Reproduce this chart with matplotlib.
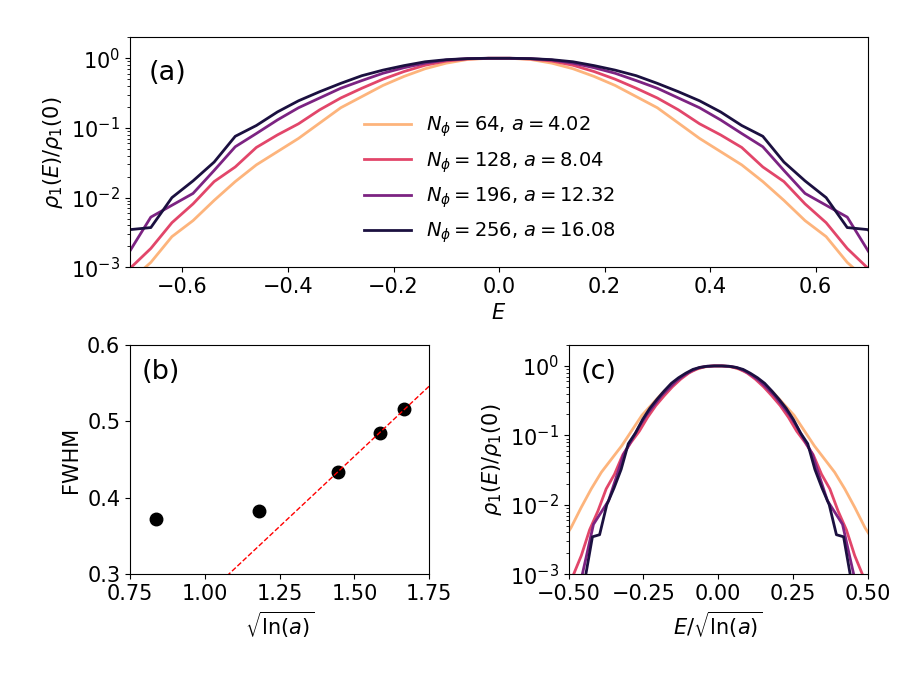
import numpy as np
import matplotlib
matplotlib.use("Agg")
import matplotlib.pyplot as plt

# ------------------------------------------------------------
# data
# ------------------------------------------------------------
N_phi = [64, 128, 196, 256]
a_vals = [4.02, 8.04, 12.32, 16.08]
colors = ['#fdb47c', '#e2466a', '#7c2382', '#1b1040']

E = [-0.74, -0.70, -0.66, -0.62, -0.58, -0.54, -0.50, -0.46, -0.42, -0.38,
     -0.34, -0.30, -0.26, -0.22, -0.18, -0.14, -0.10, -0.06, -0.02,
     0.02, 0.06, 0.10, 0.14, 0.18, 0.22, 0.26, 0.30, 0.34, 0.38,
     0.42, 0.46, 0.50, 0.54, 0.58, 0.62, 0.66, 0.70, 0.74]

# log10 of rho_1(E)/rho_1(0)
log_rho_64 = [-3.6, -3.2, -2.93, -2.56, -2.33, -2.04, -1.77, -1.53, -1.34, -1.15,
              -0.93, -0.71, -0.55, -0.39, -0.26, -0.15, -0.07, -0.018, 0.0,
              0.0, -0.018, -0.07, -0.15, -0.26, -0.39, -0.55, -0.71, -0.93, -1.15,
              -1.34, -1.53, -1.77, -2.04, -2.33, -2.56, -2.93, -3.2, -3.6]
log_rho_128 = [-3.4, -3.02, -2.73, -2.36, -2.09, -1.77, -1.56, -1.28, -1.10, -0.94,
               -0.74, -0.57, -0.43, -0.30, -0.19, -0.10, -0.04, -0.01, 0.0,
               0.0, -0.01, -0.04, -0.10, -0.19, -0.30, -0.43, -0.57, -0.74, -0.94,
               -1.10, -1.28, -1.56, -1.77, -2.09, -2.36, -2.73, -3.02, -3.4]
log_rho_196 = [-3.25, -2.77, -2.28, -2.11, -1.94, -1.61, -1.27, -1.08, -0.885, -0.71,
               -0.57, -0.43, -0.32, -0.215, -0.135, -0.07, -0.025, -0.005, 0.0,
               0.0, -0.005, -0.025, -0.07, -0.135, -0.215, -0.32, -0.43, -0.57, -0.71,
               -0.885, -1.08, -1.27, -1.61, -1.94, -2.11, -2.28, -2.77, -3.25]
log_rho_256 = [-3.05, -2.46, -2.43, -2.0, -1.76, -1.49, -1.12, -0.965, -0.77, -0.61,
               -0.48, -0.36, -0.25, -0.17, -0.105, -0.05, -0.02, -0.005, 0.0,
               0.0, -0.005, -0.02, -0.05, -0.105, -0.17, -0.25, -0.36, -0.48, -0.61,
               -0.77, -0.965, -1.12, -1.49, -1.76, -2.0, -2.43, -2.46, -3.05]
curves = [log_rho_64, log_rho_128, log_rho_196, log_rho_256]

# panel (b)
a_fwhm = [2.01, 4.02, 8.04, 12.32, 16.08]
fwhm = [0.372, 0.383, 0.434, 0.485, 0.516]

plt.rcParams['font.size'] = 15

fig = plt.figure(figsize=(9.22, 6.82), dpi=100)
ax_a = fig.add_axes([0.1407, 0.6081, 0.8011, 0.3372])
ax_b = fig.add_axes([0.141, 0.1579, 0.3246, 0.3362])
ax_c = fig.add_axes([0.6166, 0.1579, 0.3243, 0.3362])

E = np.array(E)

# (a) density of states
for N, a, c, lr in zip(N_phi, a_vals, colors, curves):
    ax_a.plot(E, 10 ** np.array(lr), color=c, lw=2,
              label=rf'$N_\phi={N}$, $a={a:.2f}$')
ax_a.set_yscale('log')
ax_a.set_xlim(-0.7, 0.7)
ax_a.set_ylim(1e-3, 2)
ax_a.set_xlabel('$E$')
ax_a.set_ylabel(r'$\rho_1(E)/\rho_1(0)$')
ax_a.text(0.025, 0.9, '(a)', transform=ax_a.transAxes, fontsize=19.5, va='top')
ax_a.legend(loc='center left', bbox_to_anchor=(0.317, 0.38), frameon=False,
            fontsize=14, handlelength=2.4, borderpad=0, borderaxespad=0,
            labelspacing=0.55)

# (b) FWHM vs sqrt(ln a)
x_b = np.sqrt(np.log(a_fwhm))
ax_b.plot(x_b, fwhm, 'o', color='black', ms=9)
slope, icpt = np.polyfit(x_b[2:], fwhm[2:], 1)
xx = np.array([0.75, 1.75])
ax_b.plot(xx, slope * xx + icpt, '--', color='red', lw=1)
ax_b.set_xlim(0.75, 1.75)
ax_b.set_ylim(0.3, 0.6)
ax_b.set_xticks([0.75, 1.00, 1.25, 1.50, 1.75])
ax_b.set_yticks([0.3, 0.4, 0.5, 0.6])
ax_b.set_xlabel(r'$\sqrt{\ln(a)}$')
ax_b.set_ylabel('FWHM')
ax_b.text(0.04, 0.94, '(b)', transform=ax_b.transAxes, fontsize=19.5, va='top')

# (c) rescaled collapse
for a, c, lr in zip(a_vals, colors, curves):
    ax_c.plot(E / np.sqrt(np.log(a)), 10 ** np.array(lr), color=c, lw=2)
ax_c.set_yscale('log')
ax_c.set_xlim(-0.5, 0.5)
ax_c.set_ylim(1e-3, 2)
ax_c.set_xticks([-0.5, -0.25, 0.0, 0.25, 0.5])
ax_c.set_xticklabels(['\u22120.50', '\u22120.25', '0.00', '0.25', '0.50'])
ax_c.set_xlabel(r'$E/\sqrt{\ln(a)}$')
ax_c.set_ylabel(r'$\rho_1(E)/\rho_1(0)$')
ax_c.text(0.04, 0.94, '(c)', transform=ax_c.transAxes, fontsize=19.5, va='top')

fig.savefig('out.png', dpi=100)
